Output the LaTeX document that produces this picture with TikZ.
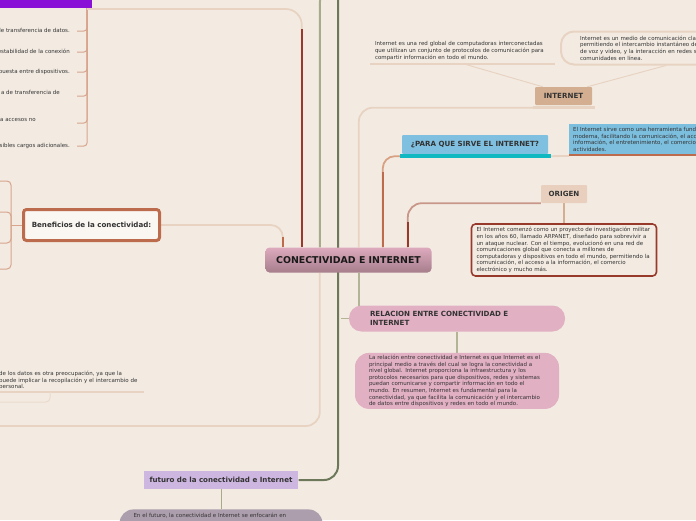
\documentclass[tikz,border=0pt]{standalone}
\usepackage{fontspec}
\setmainfont{DejaVu Sans}
\usepackage{xcolor}
\usepackage{tikz}
\usetikzlibrary{positioning}
\definecolor{paper}{HTML}{F3EBE2}
\definecolor{rosetop}{HTML}{DDAABD}
\definecolor{rosebot}{HTML}{A67E8C}
\definecolor{violet}{HTML}{8A10D8}
\definecolor{rust}{HTML}{BC6C4D}
\definecolor{rustlt}{HTML}{D9A184}
\definecolor{brick}{HTML}{983A2B}
\definecolor{bricklt}{HTML}{C9978A}
\definecolor{sand}{HTML}{E8D3C2}
\definecolor{tan}{HTML}{D3AE91}
\definecolor{peach}{HTML}{E9D0BE}
\definecolor{sky}{HTML}{7FC0E0}
\definecolor{skynote}{HTML}{7CBEDE}
\definecolor{teal}{HTML}{10B8C2}
\definecolor{pink}{HTML}{E2B0C3}
\definecolor{lilac}{HTML}{CDB6DF}
\definecolor{mauve}{HTML}{AC9EAD}
\definecolor{olive}{HTML}{A9A98B}
\definecolor{olivelt}{HTML}{B3B395}
\definecolor{moss}{HTML}{6C7859}
\definecolor{kid}{HTML}{D7A48C}
\definecolor{ink}{HTML}{333333}
\newcommand{\hubfont}{\fontsize{9.4}{11}\selectfont\bfseries}
\newcommand{\headfont}{\fontsize{7.1}{9}\selectfont\bfseries}
\newcommand{\notefont}{\fontsize{5.5}{6.6}\selectfont}
\pgfdeclarelayer{paperlayer}
\pgfdeclarelayer{wires}
\pgfsetlayers{paperlayer,wires,main}

\begin{document}
\begin{tikzpicture}[x=1pt,y=-1pt,
    hub/.style={rounded corners=4pt,minimum width=166pt,minimum height=25pt,top color=rosetop,bottom color=rosebot,font=\hubfont,text=black!90},
    head/.style={minimum height=18pt,inner xsep=6pt,font=\headfont,text=ink},
    note/.style={align=left,font=\notefont,text=ink,inner sep=0pt},
    benefbox/.style={draw=rust,line width=3pt,rounded corners=3pt,fill=white!55!paper,minimum width=136pt,minimum height=31pt,font=\headfont,text=ink},
    sandwire/.style={draw=sand,line width=1.8pt},
    rustwire/.style={draw=rust,line width=2pt},
    brickwire/.style={draw=brick,line width=2pt},
    olivewire/.style={draw=olive,line width=2pt},
    mosswire/.style={draw=moss,line width=2pt},
    thinwire/.style={line width=1pt},
    kidwire/.style={draw=kid,line width=1pt,rounded corners=3pt}
  ]
    \begin{pgfonlayer}{paperlayer}
      \fill[paper] (0,0) rectangle (696,520);
    \end{pgfonlayer}
    \useasboundingbox (0,0) rectangle (696,520);

    \node[hub] (conec) at (348.5,260) {CONECTIVIDAD E INTERNET};

    % rama de arriba a la izquierda
    \node[fill=violet,minimum width=110pt,minimum height=20pt,inner sep=0pt,anchor=south east] (violetbox) at (92,8) {};
    \foreach \txt/\ys/\pad/\up [count=\i] in {
        de transferencia de datos./31/7/0,
        estabilidad de la conexión/52/7/0,
        puesta entre dispositivos./72/7/0,
        a de transferencia de/96/17/3,
        ra accesos no/123/41/3,
        sibles cargos adicionales./146/7/0}
      \node[note,text height=4pt,text depth=1.4pt,anchor=east] (ventaja\i) at (77,\ys) {\raisebox{\up pt}{\txt}\hspace*{\pad pt}};

    \node[benefbox] (benef) at (91.5,225) {Beneficios de la conectividad:};
    \foreach \y [count=\i] in {181,212,243,269}
      \coordinate (benefkid\i) at (-4,\y);

    \node[note,anchor=south west,text width=145pt,inner ysep=2pt] (privacidad) at (-1,392)
      {de los datos es otra preocupación, ya que la\\puede implicar la recopilación y el intercambio de\\personal.};
    \coordinate (privfoot) at (-4,402);
    \coordinate (privhub) at (-4,426);

    \node[head,fill=lilac,minimum width=154pt] (futuro) at (221,480) {futuro de la conectividad e Internet};
    \node[note,fill=mauve,rounded corners=14pt,text width=175pt,inner xsep=14pt,inner ysep=4pt,text depth=30pt,below=20pt of futuro] (futuronota)
      {En el futuro, la conectividad e Internet se enfocarán en};

    % rama INTERNET
    \node[head,fill=tan,minimum width=57pt,rounded corners=1pt] (inet) at (563.5,96) {INTERNET};
    \node[note,anchor=south,text width=175pt,inner xsep=5pt,inner ysep=3pt] (inetdef) at (462.5,63.5)
      {Internet es una red global de computadoras interconectadas\\que utilizan un conjunto de protocolos de comunicación para\\compartir información en todo el mundo.};
    \node[note,anchor=north west,draw=sand,line width=2pt,rounded corners=13pt,text width=150pt,inner xsep=19pt,minimum height=33pt] (inetmedio) at (560,30.5)
      {Internet es un medio de comunicación clav\\permitiendo el intercambio instantáneo de\\de voz y video, y la interacción en redes s\\comunidades en línea.};

    \node[head,fill=sky,minimum width=146pt,minimum height=19pt,rounded corners=1pt] (sirve) at (475,144.5) {¿PARA QUE SIRVE EL INTERNET?};
    \node[note,fill=skynote,anchor=south west,text width=130pt,inner xsep=4pt,minimum height=31pt] (sirvenota) at (569,155)
      {El Internet sirve como una herramienta fund\\moderna, facilitando la comunicación, el acc\\información, el entretenimiento, el comercio\\actividades.};

    \node[head,fill=peach,minimum width=46pt,rounded corners=1pt] (origen) at (564,194) {ORIGEN};
    \node[note,fill=paper,draw=brick,line width=1.6pt,rounded corners=4pt,text width=175pt,inner xsep=5pt,minimum height=52pt,below=20pt of origen] (origennota)
      {El Internet comenzó como un proyecto de investigación militar\\en los años 60, llamado ARPANET, diseñado para sobrevivir a\\un ataque nuclear. Con el tiempo, evolucionó en una red de\\comunicaciones global que conecta a millones de\\computadoras y dispositivos en todo el mundo, permitiendo la\\comunicación, el acceso a la información, el comercio\\electrónico y mucho más.};

    \node[head,fill=pink,rounded corners=12.5pt,minimum height=26pt,text width=174pt,inner xsep=21pt,align=left] (relacion) at (457,318.5)
      {RELACION ENTRE CONECTIVIDAD E\\INTERNET};
    \node[note,fill=pink,rounded corners=14pt,text width=176pt,inner xsep=14pt,minimum height=56pt,below=21pt of relacion] (relacionnota)
      {La relación entre conectividad e Internet es que Internet es el\\principal medio a través del cual se logra la conectividad a\\nivel global. Internet proporciona la infraestructura y los\\protocolos necesarios para que dispositivos, redes y sistemas\\puedan comunicarse y compartir información en todo el\\mundo. En resumen, Internet es fundamental para la\\conectividad, ya que facilita la comunicación y el intercambio\\de datos entre dispositivos y redes en todo el mundo.};
    \coordinate (relstub) at (341,318.5);
    \coordinate (olivetop) at (320,-4);
    \coordinate (mosstop) at (338,-4);

    % barras bajo los temas
    \draw[teal,line width=3.5pt] ([xshift=-2pt,yshift=-2pt]sirve.south west) -- ([xshift=3pt,yshift=-2pt]sirve.south east);
    \draw[sand,line width=3pt] ([xshift=-2pt,yshift=-2.5pt]inet.south west) -- ([xshift=3pt,yshift=-2.5pt]inet.south east);
    \draw[rust,line width=2.5pt] (sirvenota.south west) -- (sirvenota.south east);

    \begin{pgfonlayer}{wires}
      \foreach \i in {1,...,6}
        \draw[kidwire] ([xshift=-5pt]violetbox.south east) |- (ventaja\i.east);
      \draw[sandwire,rounded corners=16pt] ([xshift=-5pt,yshift=-1pt]violetbox.south east) -| ([xshift=36.5pt]conec.north west);
      \draw[brickwire] ([xshift=36.5pt]conec.north west) -- +(0,-218);

      \draw[kidwire] (benef.west) -- ++(-11,0);
      \foreach \i in {1,...,4}
        \draw[kidwire,rounded corners=4pt] ([xshift=-11pt]benef.west) |- (benefkid\i);
      \draw[sandwire,rounded corners=12pt] (benef.east) -| ([xshift=17.5pt]conec.north west);
      \draw[rustwire] ([xshift=17.5pt]conec.north west) -- +(0,-10);

      \draw[olivewire] (olivetop) -- ([xshift=54.5pt]conec.north west);
      \draw[mosswire,rounded corners=14pt] (mosstop) |- (futuro.east);
      \draw[olive,thinwire] (futuro) -- (futuronota);

      \draw[sand,line width=2pt] (privacidad.south west) -- (privacidad.south east);
      \draw[sand!70!paper,thinwire,rounded corners=4pt] (privfoot) -| ([xshift=51pt]privacidad.south west);
      \draw[sandwire,rounded corners=14pt] ([xshift=54.5pt]conec.south west) |- (privhub);

      \draw[sandwire,rounded corners=14pt] ([yshift=-2.5pt]inet.south west) -| ([xshift=93.5pt]conec.north west);
      \draw[sand,thinwire] ([xshift=8pt]inet.north west) -- (inetdef.south);
      \draw[sand,thinwire] ([xshift=-5pt]inet.north east) -- ([xshift=11pt]inetmedio.south);
      \draw[sand,line width=2pt] (inetdef.south west) -- (inetdef.south east);

      \draw[rustlt,line width=1.8pt,rounded corners=12pt] ([yshift=-2pt]sirve.south west) -| ([xshift=117.5pt]conec.north west);
      \draw[rustwire] ([xshift=117.5pt]conec.north west) -- +(0,-75);
      \draw[sandwire] ([yshift=-2pt]sirve.south east) -- ([yshift=-1pt]sirvenota.south west);

      \draw[bricklt,line width=1.8pt,rounded corners=14pt] (origen.south west) -| ([xshift=142.5pt]conec.north west);
      \draw[brickwire] ([xshift=142.5pt]conec.north west) -- +(0,-25);
      \draw[tan,line width=1.4pt] (origen) -- (origennota);

      \draw[olivelt,line width=1.6pt] ([xshift=93.5pt]conec.south west) -- +(0,45);
      \draw[olivelt,line width=1.6pt] (relstub) -- (relacion.west);
      \draw[olivelt,line width=1.4pt] (relacion) -- (relacionnota);
    \end{pgfonlayer}
  \end{tikzpicture}
\end{document}
